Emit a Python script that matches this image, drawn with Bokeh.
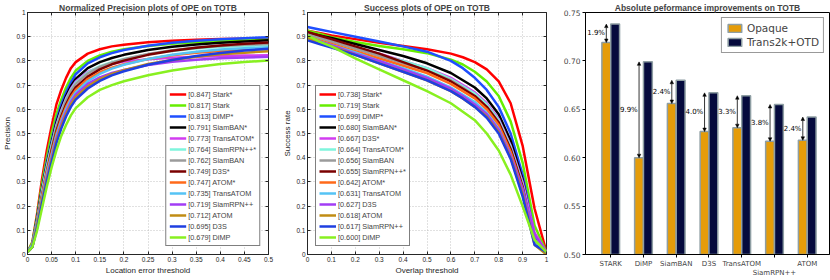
from bokeh.plotting import figure
from bokeh.layouts import row
from bokeh.models import (Legend, LegendItem, FixedTicker, Arrow, NormalHead, PolyAnnotation,
                          ColumnDataSource, Range1d, NumeralTickFormatter, LinearAxis)
from bokeh.embed import file_html
from bokeh.resources import INLINE
from bokeh.core.properties import value

# ---------------- data: normalized precision ----------------
prec_x = [0, 0.01, 0.02, 0.03, 0.04, 0.05, 0.06, 0.07, 0.08, 0.09, 0.1, 0.125, 0.15, 0.175, 0.2,
          0.25, 0.3, 0.35, 0.4, 0.45, 0.5]
prec_stark_s = [0.01, 0.05, 0.17, 0.31, 0.43, 0.53, 0.62, 0.68, 0.73, 0.77, 0.795, 0.83, 0.848, 0.86, 0.867, 0.877, 0.883, 0.887, 0.89, 0.892, 0.894]
prec_stark = [0.01, 0.05, 0.16, 0.29, 0.40, 0.50, 0.58, 0.64, 0.69, 0.73, 0.76, 0.80, 0.823, 0.838, 0.848, 0.862, 0.871, 0.877, 0.882, 0.885, 0.888]
prec_dimp_s = [0.01, 0.04, 0.15, 0.27, 0.38, 0.47, 0.555, 0.62, 0.67, 0.71, 0.745, 0.79, 0.815, 0.832, 0.845, 0.863, 0.875, 0.883, 0.889, 0.894, 0.898]
prec_siamban_s = [0.01, 0.04, 0.15, 0.27, 0.37, 0.46, 0.545, 0.605, 0.655, 0.695, 0.725, 0.77, 0.795, 0.812, 0.825, 0.845, 0.858, 0.868, 0.875, 0.88, 0.885]
prec_transatom_s = [0.01, 0.04, 0.14, 0.26, 0.36, 0.45, 0.535, 0.595, 0.645, 0.685, 0.715, 0.755, 0.775, 0.788, 0.797, 0.807, 0.813, 0.817, 0.82, 0.822, 0.823]
prec_siamrpn_s = [0.01, 0.04, 0.14, 0.26, 0.36, 0.45, 0.53, 0.59, 0.64, 0.68, 0.71, 0.752, 0.778, 0.795, 0.808, 0.828, 0.841, 0.851, 0.858, 0.862, 0.865]
prec_siamban = [0.01, 0.04, 0.14, 0.25, 0.35, 0.44, 0.525, 0.585, 0.635, 0.675, 0.705, 0.748, 0.775, 0.793, 0.807, 0.829, 0.844, 0.855, 0.862, 0.867, 0.87]
prec_d3s_s = [0.01, 0.04, 0.13, 0.24, 0.34, 0.43, 0.51, 0.57, 0.62, 0.66, 0.69, 0.735, 0.765, 0.786, 0.801, 0.825, 0.842, 0.854, 0.864, 0.871, 0.876]
prec_atom_s = [0.01, 0.04, 0.13, 0.24, 0.34, 0.42, 0.50, 0.56, 0.61, 0.65, 0.68, 0.725, 0.753, 0.772, 0.786, 0.808, 0.823, 0.834, 0.841, 0.846, 0.85]
prec_transatom = [0.01, 0.04, 0.13, 0.23, 0.33, 0.41, 0.49, 0.55, 0.60, 0.64, 0.67, 0.716, 0.746, 0.768, 0.784, 0.808, 0.825, 0.838, 0.847, 0.852, 0.856]
prec_siamrpn = [0.01, 0.03, 0.12, 0.22, 0.32, 0.40, 0.48, 0.54, 0.59, 0.63, 0.66, 0.705, 0.732, 0.75, 0.763, 0.783, 0.796, 0.805, 0.811, 0.814, 0.817]
prec_atom = [0.01, 0.03, 0.12, 0.22, 0.31, 0.39, 0.47, 0.53, 0.58, 0.62, 0.65, 0.695, 0.725, 0.746, 0.762, 0.787, 0.804, 0.817, 0.827, 0.834, 0.84]
prec_d3s = [0.01, 0.03, 0.11, 0.21, 0.30, 0.38, 0.46, 0.52, 0.57, 0.61, 0.64, 0.686, 0.717, 0.74, 0.757, 0.784, 0.804, 0.82, 0.833, 0.843, 0.85]
prec_dimp = [0.01, 0.03, 0.10, 0.19, 0.28, 0.36, 0.43, 0.49, 0.535, 0.575, 0.605, 0.65, 0.68, 0.70, 0.716, 0.741, 0.76, 0.775, 0.787, 0.795, 0.802]
prec_labels = ["[0.847] Stark*", "[0.817] Stark", "[0.813] DiMP*", "[0.791] SiamBAN*", "[0.773] TransATOM*",
               "[0.764] SiamRPN++*", "[0.762] SiamBAN", "[0.749] D3S*", "[0.747] ATOM*", "[0.735] TransATOM",
               "[0.719] SiamRPN++", "[0.712] ATOM", "[0.695] D3S", "[0.679] DiMP"]

# ---------------- data: success ----------------
succ_x = [0, 0.05, 0.1, 0.2, 0.3, 0.4, 0.5, 0.6, 0.65, 0.7, 0.75, 0.8, 0.85, 0.9, 0.95, 1.0]
succ_stark_s = [0.925, 0.915, 0.905, 0.89, 0.875, 0.862, 0.848, 0.83, 0.815, 0.795, 0.765, 0.715, 0.625, 0.45, 0.19, 0.01]
succ_stark = [0.925, 0.912, 0.898, 0.878, 0.862, 0.848, 0.832, 0.805, 0.785, 0.755, 0.715, 0.655, 0.55, 0.38, 0.12, 0.01]
succ_dimp_s = [0.94, 0.93, 0.92, 0.9, 0.88, 0.86, 0.838, 0.80, 0.77, 0.73, 0.68, 0.61, 0.5, 0.33, 0.08, 0.01]
succ_siamban_s = [0.915, 0.905, 0.895, 0.87, 0.845, 0.82, 0.79, 0.75, 0.72, 0.69, 0.645, 0.58, 0.47, 0.31, 0.07, 0.01]
succ_d3s_s = [0.91, 0.895, 0.88, 0.855, 0.83, 0.80, 0.77, 0.73, 0.70, 0.67, 0.625, 0.56, 0.45, 0.30, 0.09, 0.01]
succ_transatom_s = [0.90, 0.89, 0.88, 0.855, 0.825, 0.80, 0.77, 0.725, 0.695, 0.665, 0.62, 0.555, 0.445, 0.29, 0.06, 0.01]
succ_siamban = [0.91, 0.895, 0.88, 0.85, 0.82, 0.79, 0.76, 0.72, 0.69, 0.655, 0.61, 0.545, 0.435, 0.28, 0.06, 0.01]
succ_siamrpn_s = [0.92, 0.905, 0.89, 0.86, 0.83, 0.795, 0.76, 0.715, 0.685, 0.655, 0.61, 0.545, 0.435, 0.28, 0.05, 0.01]
succ_atom_s = [0.90, 0.885, 0.87, 0.84, 0.81, 0.78, 0.75, 0.705, 0.675, 0.645, 0.60, 0.535, 0.425, 0.27, 0.05, 0.01]
succ_transatom = [0.895, 0.88, 0.865, 0.835, 0.80, 0.77, 0.735, 0.69, 0.66, 0.63, 0.585, 0.52, 0.41, 0.26, 0.05, 0.0]
succ_d3s = [0.90, 0.88, 0.865, 0.83, 0.80, 0.765, 0.73, 0.685, 0.655, 0.62, 0.58, 0.515, 0.41, 0.27, 0.08, 0.01]
succ_atom = [0.895, 0.875, 0.86, 0.825, 0.79, 0.755, 0.72, 0.675, 0.645, 0.61, 0.57, 0.505, 0.40, 0.25, 0.04, 0.0]
succ_siamrpn = [0.885, 0.87, 0.855, 0.825, 0.79, 0.755, 0.72, 0.675, 0.645, 0.61, 0.565, 0.50, 0.395, 0.24, 0.04, 0.01]
succ_dimp = [0.905, 0.88, 0.86, 0.81, 0.765, 0.72, 0.675, 0.625, 0.59, 0.555, 0.50, 0.43, 0.33, 0.2, 0.06, 0.01]
succ_labels = ["[0.738] Stark*", "[0.719] Stark", "[0.699] DiMP*", "[0.680] SiamBAN*", "[0.667] D3S*",
               "[0.664] TransATOM*", "[0.656] SiamBAN", "[0.655] SiamRPN++*", "[0.642] ATOM*", "[0.631] TransATOM",
               "[0.627] D3S", "[0.618] ATOM", "[0.617] SiamRPN++", "[0.600] DiMP"]

# ---------------- data: bar chart ----------------
bar_cats = ["STARK", "DiMP", "SiamBAN", "D3S", "TransATOM", "SiamRPN++", "ATOM"]
bar_opaque = [0.719, 0.600, 0.656, 0.627, 0.631, 0.617, 0.618]
bar_trans = [0.738, 0.699, 0.680, 0.667, 0.664, 0.655, 0.642]
bar_pct = ["1.9%", "9.9%", "2.4%", "4.0%", "3.3%", "3.8%", "2.4%"]

prec_ticks = [0, 0.05, 0.1, 0.15, 0.2, 0.25, 0.3, 0.35, 0.4, 0.45, 0.5]
unit_ticks = [0, 0.1, 0.2, 0.3, 0.4, 0.5, 0.6, 0.7, 0.8, 0.9, 1]
bar_yticks = [0.5, 0.55, 0.6, 0.65, 0.7, 0.75]

colors = ["#ff0000", "#66ee00", "#1f4fff", "#000000", "#d23cf0", "#7ff5dd", "#9b9b9b",
          "#7a0000", "#ff6a1a", "#55c3f5", "#a23cf5", "#c08c14", "#1f3fe0", "#88f020"]

FONT = "Liberation Sans"
AX = "#262626"
H = 280


def fmt(v):
    return "%g" % v


def style_title(p):
    p.title.text_font = FONT
    p.title.text_font_size = "8.5px"
    p.title.text_font_style = "bold"
    p.title.align = "center"
    p.title.standoff = 0
    p.title.offset = 0


def bare_axis(ticks):
    ax = LinearAxis(ticker=FixedTicker(ticks=ticks))
    ax.major_label_overrides = {t: "" for t in ticks}
    ax.major_label_text_font_size = "0px"
    ax.major_label_standoff = 0
    ax.major_tick_in = 3
    ax.major_tick_out = 0
    ax.minor_tick_line_color = None
    ax.axis_line_color = None
    ax.major_tick_line_color = AX
    return ax


def style_curve_fig(p, xticks, xlabel, ylabel):
    style_title(p)
    p.outline_line_color = AX
    p.outline_line_alpha = 1
    for ax, ticks, lab in ((p.xaxis[0], xticks, xlabel), (p.yaxis[0], unit_ticks, ylabel)):
        ax.ticker = FixedTicker(ticks=ticks)
        ax.major_label_overrides = {t: fmt(t) for t in ticks}
        ax.major_tick_in = 3
        ax.major_tick_out = 0
        ax.minor_tick_line_color = None
        ax.axis_line_color = AX
        ax.major_tick_line_color = AX
        ax.major_label_text_font = FONT
        ax.major_label_text_font_size = "6.5px"
        ax.major_label_text_color = AX
        ax.major_label_standoff = 2
        ax.axis_label = lab
        ax.axis_label_text_font = FONT
        ax.axis_label_text_font_size = "8px"
        ax.axis_label_text_font_style = "normal"
        ax.axis_label_text_color = AX
        ax.axis_label_standoff = 1
    p.add_layout(bare_axis(xticks), "above")
    p.add_layout(bare_axis(unit_ticks), "right")
    p.xgrid.ticker = FixedTicker(ticks=xticks)
    p.ygrid.ticker = FixedTicker(ticks=unit_ticks)
    p.grid.grid_line_color = "#b4b4b4"
    p.grid.grid_line_dash = "1 2"
    p.grid.grid_line_width = 0.8


def add_curves(p, xs, series, labels, loc, margin):
    items = []
    for ys, lab, c in zip(series, labels, colors):
        r = p.line(xs, ys, line_color=c, line_width=2.5)
        items.append(LegendItem(label=lab, renderers=[r]))
    lg = Legend(items=items, location=loc, margin=margin)
    lg.label_text_font = FONT
    lg.label_text_font_size = "7.3px"
    lg.label_height = 9
    lg.glyph_height = 10
    lg.glyph_width = 17
    lg.spacing = 1
    lg.padding = 3
    lg.label_standoff = 2
    lg.border_line_color = "black"
    lg.border_line_width = 1
    lg.background_fill_alpha = 1
    p.add_layout(lg)


# ---------------- figure 1 ----------------
p1 = figure(width=280, height=H, x_range=Range1d(0, 0.5), y_range=Range1d(0, 1),
            output_backend="svg", toolbar_location=None,
            title="Normalized Precision plots of OPE on TOTB",
            min_border_left=23, min_border_right=12, min_border_top=0, min_border_bottom=0)
style_curve_fig(p1, prec_ticks, "Location error threshold", "Precision")
add_curves(p1, prec_x,
           [prec_stark_s, prec_stark, prec_dimp_s, prec_siamban_s, prec_transatom_s, prec_siamrpn_s,
            prec_siamban, prec_d3s_s, prec_atom_s, prec_transatom, prec_siamrpn, prec_atom, prec_d3s, prec_dimp],
           prec_labels, "bottom_right", 8)

# ---------------- figure 2 ----------------
p2 = figure(width=274, height=H, x_range=Range1d(0, 1), y_range=Range1d(0, 1),
            output_backend="svg", toolbar_location=None,
            title="Success plots of OPE on TOTB",
            min_border_left=21, min_border_right=8, min_border_top=0, min_border_bottom=0)
style_curve_fig(p2, unit_ticks, "Overlap threshold", "Success rate")
add_curves(p2, succ_x,
           [succ_stark_s, succ_stark, succ_dimp_s, succ_siamban_s, succ_d3s_s, succ_transatom_s,
            succ_siamban, succ_siamrpn_s, succ_atom_s, succ_transatom, succ_d3s, succ_atom, succ_siamrpn, succ_dimp],
           succ_labels, "bottom_left", 8)

# ---------------- figure 3 ----------------
BFONT = "DejaVu Sans"
n = len(bar_cats)
idx = list(range(n))
bw = 0.27
src = ColumnDataSource(dict(
    xo=[i - bw / 2 for i in idx], xt=[i + bw / 2 for i in idx],
    opq=bar_opaque, trn=bar_trans, pct=bar_pct,
    ym=[(a + b) / 2 for a, b in zip(bar_opaque, bar_trans)],
    xl=[i - bw / 2 - 0.04 for i in idx],
))

p3 = figure(width=276, height=H, x_range=Range1d(-0.77, 6.68), y_range=Range1d(0.5, 0.75),
            output_backend="svg", toolbar_location=None,
            title="Absolute peformance improvements on TOTB",
            min_border_left=31, min_border_right=1, min_border_top=0, min_border_bottom=0)
style_title(p3)
p3.outline_line_color = "black"
p3.outline_line_alpha = 1
p3.grid.visible = False

edge = "#8e9ea3"
r_o = p3.vbar(x="xo", top="opq", bottom=0.5, width=bw, source=src,
              fill_color="#e59c09", line_color=edge, line_width=1.5)
r_t = p3.vbar(x="xt", top="trn", bottom=0.5, width=bw, source=src,
              fill_color="#050a3d", line_color=edge, line_width=1.5)

p3.add_layout(Arrow(x_start="xo", y_start="opq", x_end="xo", y_end="trn", source=src,
                    start=NormalHead(size=3.5, fill_color="black", line_color="black", line_width=0.5),
                    end=NormalHead(size=3.5, fill_color="black", line_color="black", line_width=0.5),
                    line_width=0.8, line_color="black"))
p3.text(x="xl", y="ym", text="pct", source=src, text_align="right", text_baseline="middle",
        text_font=value(BFONT), text_font_size="7px", text_color="black")

xa = p3.xaxis[0]
xa.ticker = FixedTicker(ticks=idx)
xa.major_label_overrides = {i: ("\n" + c if c == "SiamRPN++" else c) for i, c in zip(idx, bar_cats)}
xa.major_tick_out = 3
xa.major_tick_in = 0
xa.minor_tick_line_color = None
xa.major_label_text_font = BFONT
xa.major_label_text_font_size = "7px"
xa.major_label_standoff = 2
xa.axis_line_color = "black"

ya = p3.yaxis[0]
ya.ticker = FixedTicker(ticks=bar_yticks)
ya.formatter = NumeralTickFormatter(format="0.00")
ya.major_tick_out = 3
ya.major_tick_in = 0
ya.minor_tick_line_color = None
ya.major_label_text_font = BFONT
ya.major_label_text_font_size = "7.5px"
ya.major_label_standoff = 2
ya.axis_line_color = "black"

# long tick under the staggered label
k = bar_cats.index("SiamRPN++")
p3.add_layout(PolyAnnotation(xs=[k, k, k], ys=[0.5, 0.487, 0.5], fill_alpha=0,
                             line_color="black", line_width=1.2, level="overlay"))

lg3 = Legend(items=[LegendItem(label="Opaque", renderers=[r_o]),
                    LegendItem(label="Trans2k+OTD", renderers=[r_t])],
             location="top_right", margin=5)
lg3.label_text_font = BFONT
lg3.label_text_font_size = "10.5px"
lg3.glyph_width = 17
lg3.glyph_height = 10
lg3.label_height = 12
lg3.spacing = 2
lg3.padding = 4
lg3.label_standoff = 4
lg3.border_line_color = "#333333"
lg3.border_line_width = 1
p3.add_layout(lg3)

layout = row(p1, p2, p3, spacing=0)
open("out.html", "w").write(file_html(layout, INLINE))
